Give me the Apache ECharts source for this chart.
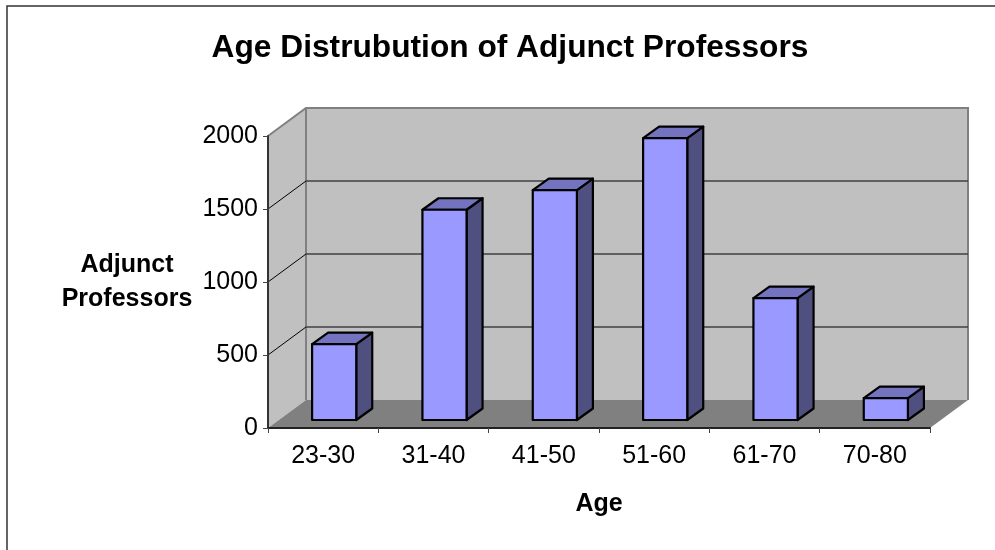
<!DOCTYPE html>
<html>
<head>
<meta charset="utf-8">
<style>html,body{margin:0;padding:0;background:#fff}#c{width:995px;height:550px}</style>
<script src="https://cdn.jsdelivr.net/npm/echarts@6/dist/echarts.min.js"></script>
</head>
<body>
<div id="c"></div>
<script>
var categories = ['23-30', '31-40', '41-50', '51-60', '61-70', '70-80'];
var values = [520, 1440, 1575, 1930, 835, 150];
var yTicks = [0, 500, 1000, 1500, 2000];

var FONT = '"Liberation Sans", Arial, sans-serif';
var WALL_DX = 38, WALL_DY = -28;
var BAR_OFF_X = 11, BAR_OFF_Y = -8, BAR_DX = 16, BAR_DY = -11.5, BAR_FRAC = 0.4;
var yMax = yTicks[yTicks.length - 1];

function wallExtent(api) {
  var band = api.size([1, 0])[0];
  return {
    l: api.coord([0, 0])[0] - band / 2,
    r: api.coord([categories.length - 1, 0])[0] + band / 2,
    b: api.coord([0, 0])[1],
    t: api.coord([0, yMax])[1]
  };
}
function renderWalls(params, api) {
  var e = wallExtent(api);
  var dx = WALL_DX, dy = WALL_DY;
  var edge = { stroke: '#808080', lineWidth: 2 };
  return { type: 'group', children: [
    { type: 'polygon', shape: { points: [[e.l + dx, e.t + dy], [e.r + dx, e.t + dy], [e.r + dx, e.b + dy], [e.l + dx, e.b + dy]] }, style: { fill: '#c0c0c0' } },
    { type: 'polygon', shape: { points: [[e.l, e.t], [e.l + dx, e.t + dy], [e.l + dx, e.b + dy], [e.l, e.b]] }, style: { fill: '#c0c0c0' } },
    { type: 'polygon', shape: { points: [[e.l, e.b], [e.r, e.b], [e.r + dx, e.b + dy], [e.l + dx, e.b + dy]] }, style: { fill: '#808080' } },
    { type: 'polyline', shape: { points: [[e.l, e.t], [e.l + dx, e.t + dy], [e.r + dx, e.t + dy], [e.r + dx, e.b + dy]] }, style: { stroke: '#808080', lineWidth: 2, fill: null } },
    { type: 'line', shape: { x1: e.l + dx, y1: e.t + dy, x2: e.l + dx, y2: e.b + dy }, style: edge }
  ] };
}
function renderGrid(params, api) {
  var e = wallExtent(api);
  var y = api.coord([0, api.value(1)])[1];
  return { type: 'group', children: [
    { type: 'line', shape: { x1: e.l, y1: y, x2: e.l + WALL_DX, y2: y + WALL_DY }, style: { stroke: '#000', lineWidth: 1 } },
    { type: 'line', shape: { x1: e.l + WALL_DX, y1: y + WALL_DY, x2: e.r + WALL_DX, y2: y + WALL_DY }, style: { stroke: '#404040', lineWidth: 1.5 } }
  ] };
}
function renderBar(params, api) {
  var base = api.coord([api.value(0), 0]);
  var top = api.coord([api.value(0), api.value(1)]);
  var w = api.size([1, 0])[0] * BAR_FRAC;
  var x0 = base[0] + BAR_OFF_X - w / 2, x1 = x0 + w;
  var yb = base[1] + BAR_OFF_Y, yt = top[1] + BAR_OFF_Y;
  var dx = BAR_DX, dy = BAR_DY;
  var line = { stroke: '#000', lineWidth: 2.2, lineJoin: 'round' };
  return { type: 'group', children: [
    { type: 'polygon', shape: { points: [[x1, yt], [x1 + dx, yt + dy], [x1 + dx, yb + dy], [x1, yb]] }, style: Object.assign({ fill: '#4f4f80' }, line) },
    { type: 'polygon', shape: { points: [[x0, yt], [x0 + dx, yt + dy], [x1 + dx, yt + dy], [x1, yt]] }, style: Object.assign({ fill: '#7373bf' }, line) },
    { type: 'polygon', shape: { points: [[x0, yt], [x1, yt], [x1, yb], [x0, yb]] }, style: Object.assign({ fill: '#9999ff' }, line) }
  ] };
}

var chart = echarts.init(document.getElementById('c'), null, { renderer: 'canvas' });
chart.setOption({
  animation: false,
  backgroundColor: '#fff',
  title: {
    text: 'Age Distrubution of Adjunct Professors',
    left: 505, top: 27, textAlign: 'center',
    textStyle: { fontFamily: FONT, fontSize: 31.7, fontWeight: 'bold', color: '#000' }
  },
  graphic: [
    { type: 'polyline', z: 100, shape: { points: [[7, 550], [7, 6], [995, 6]] }, style: { stroke: '#333', lineWidth: 1.5, fill: null } }
  ],
  grid: { left: 268, top: 136, width: 662, height: 292, containLabel: false },
  xAxis: {
    type: 'category', data: categories, z: 5,
    name: 'Age', nameLocation: 'middle', nameGap: 64,
    nameTextStyle: { fontFamily: FONT, fontSize: 25, fontWeight: 'bold', color: '#000' },
    axisLine: { show: true, lineStyle: { color: '#222', width: 2 } },
    axisTick: { show: true, alignWithLabel: false, length: 5, lineStyle: { color: '#444', width: 1 } },
    axisLabel: { fontFamily: FONT, fontSize: 25, color: '#000', margin: 16 },
    splitLine: { show: false }
  },
  yAxis: {
    type: 'value', min: 0, max: yMax, interval: 500, z: 5,
    name: 'Adjunct\nProfessors', nameLocation: 'middle', nameRotate: 0, nameGap: 141,
    nameTextStyle: { fontFamily: FONT, fontSize: 25, fontWeight: 'bold', color: '#000', lineHeight: 34, align: 'center', verticalAlign: 'middle' },
    axisLine: { show: true, lineStyle: { color: '#333', width: 2 } },
    axisTick: { show: true, length: 5, lineStyle: { color: '#444', width: 1 } },
    axisLabel: { fontFamily: FONT, fontSize: 25, color: '#000', margin: 10, padding: [3, 0, 0, 0], formatter: function (v) { return String(v); } },
    splitLine: { show: false }
  },
  series: [
    { type: 'custom', z: 1, silent: true, clip: false, renderItem: renderWalls, data: [[0, 0]], encode: { x: 0, y: 1 } },
    { type: 'custom', z: 2, silent: true, clip: false, renderItem: renderGrid, data: yTicks.slice(1, -1).map(function (t) { return [0, t]; }), encode: { x: 0, y: 1 } },
    { type: 'custom', z: 3, clip: false, renderItem: renderBar, data: values.map(function (v, i) { return [i, v]; }), encode: { x: 0, y: 1 } }
  ]
});
</script>
</body>
</html>
